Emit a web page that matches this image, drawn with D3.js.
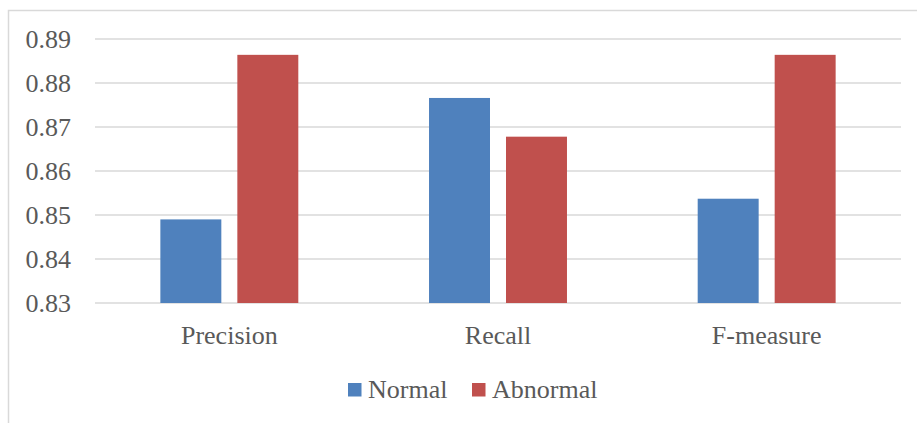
<!DOCTYPE html>
<html>
<head>
<meta charset="utf-8">
<script src="https://cdn.jsdelivr.net/npm/d3@7"></script>
<style>
  html, body { margin: 0; padding: 0; background: #fff; }
  svg { display: block; }
</style>
</head>
<body>
<svg id="chart" width="917" height="423"></svg>
<script>
// Metrics per class
const categories = ["Precision", "Recall", "F-measure"];
const seriesNames = ["Normal", "Abnormal"];
const normalValues = [0.849, 0.8766, 0.8537];
const abnormalValues = [0.8864, 0.8678, 0.8864];
const yTicks = [0.83, 0.84, 0.85, 0.86, 0.87, 0.88, 0.89];
const colors = ["#4F81BD", "#C0504D"];

const FONT = "'Liberation Serif', 'Times New Roman', serif";
const TEXT_COLOR = "#595959";

const svg = d3.select("#chart");
const W = 917, H = 423;
const plot = { left: 95, right: 901, top: 39, bottom: 303 };

// Outer chart frame (only top and left edges fall inside the canvas)
svg.append("path")
  .attr("d", `M8.5,${H} L8.5,10.5 L${W},10.5`)
  .attr("fill", "none")
  .attr("stroke", "#D9D9D9")
  .attr("stroke-width", 1.5);

const x = d3.scaleBand().domain(categories).range([plot.left, plot.right]);
const xInner = d3.scaleBand().domain(seriesNames)
  .range([0, x.bandwidth()]).paddingInner(0.208).paddingOuter(0.849);
const y = d3.scaleLinear().domain([0.83, 0.89]).range([plot.bottom, plot.top]);

// Gridlines
svg.append("g")
  .selectAll("line").data(yTicks).join("line")
  .attr("x1", plot.left).attr("x2", plot.right)
  .attr("y1", d => y(d)).attr("y2", d => y(d))
  .attr("stroke", "#D9D9D9").attr("stroke-width", 1.5);

// Y axis labels
const yAxis = d3.axisLeft(y).tickValues(yTicks).tickFormat(d3.format(".2f")).tickSize(0).tickPadding(24);
const gy = svg.append("g").attr("transform", `translate(${plot.left},0)`).call(yAxis);
gy.select(".domain").remove();
gy.attr("font-family", null).attr("font-size", null);
gy.selectAll("text")
  .style("font-family", FONT)
  .style("font-size", "26px")
  .style("fill", TEXT_COLOR)
  .attr("dy", "0.33em");

// Bars
const rows = categories.map((c, i) => ({ cat: c, vals: [normalValues[i], abnormalValues[i]] }));
const groups = svg.append("g").selectAll("g").data(rows).join("g")
  .attr("transform", d => `translate(${x(d.cat)},0)`);
groups.selectAll("rect")
  .data(d => d.vals.map((v, j) => ({ name: seriesNames[j], v, j })))
  .join("rect")
  .attr("x", d => xInner(d.name))
  .attr("width", xInner.bandwidth())
  .attr("y", d => y(d.v))
  .attr("height", d => y(0.83) - y(d.v))
  .attr("fill", d => colors[d.j]);

// X axis labels
const xAxis = d3.axisBottom(x).tickSize(0).tickPadding(0);
const gx = svg.append("g").attr("transform", `translate(0,${plot.bottom})`).call(xAxis);
gx.select(".domain").remove();
gx.attr("font-family", null).attr("font-size", null);
gx.selectAll("text")
  .style("font-family", FONT)
  .style("font-size", "26px")
  .style("fill", TEXT_COLOR)
  .attr("dy", null)
  .attr("y", 41);

// Legend
const legendItems = [
  { name: seriesNames[0], color: colors[0], x: 348 },
  { name: seriesNames[1], color: colors[1], x: 472 }
];
const lg = svg.append("g").selectAll("g").data(legendItems).join("g")
  .attr("transform", d => `translate(${d.x},383)`);
lg.append("rect").attr("width", 13.5).attr("height", 13.5).attr("fill", d => d.color);
lg.append("text").attr("x", 20).attr("y", 14.5)
  .style("font-family", FONT)
  .style("font-size", "26px")
  .style("fill", TEXT_COLOR)
  .text(d => d.name);
</script>
</body>
</html>
